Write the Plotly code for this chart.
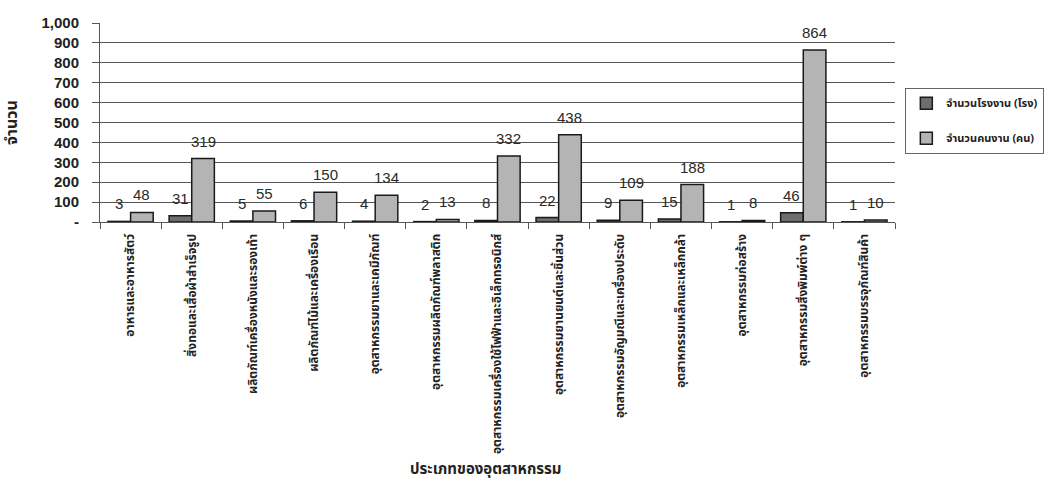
import plotly.graph_objects as go

# Industry types (x-axis categories)
industries = [
    "อาหารและอาหารสัตว์",
    "สิ่งทอและเสื้อผ้าสำเร็จรูป",
    "ผลิตภัณฑ์เครื่องหนังและรองเท้า",
    "ผลิตภัณฑ์ไม้และเครื่องเรือน",
    "อุตสาหกรรมยาและเคมีภัณฑ์",
    "อุตสาหกรรมผลิตภัณฑ์พลาสติก",
    "อุตสาหกรรมเครื่องใช้ไฟฟ้าและอิเล็กทรอนิกส์",
    "อุตสาหกรรมยานยนต์และชิ้นส่วน",
    "อุตสาหกรรมอัญมณีและเครื่องประดับ",
    "อุตสาหกรรมเหล็กและเหล็กกล้า",
    "อุตสาหกรรมก่อสร้าง",
    "อุตสาหกรรมสิ่งพิมพ์ต่าง ๆ",
    "อุตสาหกรรมบรรจุภัณฑ์สินค้า",
]

# Number of factories and number of workers per industry
factories = [3, 31, 5, 6, 4, 2, 8, 22, 9, 15, 1, 46, 1]
workers = [48, 319, 55, 150, 134, 13, 332, 438, 109, 188, 8, 864, 10]

series_names = ["จำนวนโรงงาน (โรง)", "จำนวนคนงาน (คน)"]

# Y-axis ticks (zero shown as a dash)
y_tickvals = [0, 100, 200, 300, 400, 500, 600, 700, 800, 900, 1000]
y_ticktext = ["-", "100", "200", "300", "400", "500", "600", "700", "800", "900", "1,000"]

thai_font = "Noto Sans Thai, Noto Sans, Liberation Sans, sans-serif"
num_font = "Liberation Sans, Arial, sans-serif"

BARGAP = 0.26
MARGIN = dict(l=100, r=155, t=23, b=262)
WIDTH, HEIGHT = 1050, 484

fig = go.Figure()
fig.add_trace(go.Bar(
    x=industries, y=factories, name=series_names[0], legendgroup="f",
    marker=dict(color="#6e6e6e", line=dict(color="#1a1a1a", width=1.5)),
))
fig.add_trace(go.Bar(
    x=industries, y=workers, name=series_names[1], legendgroup="w",
    marker=dict(color="#b4b4b4", line=dict(color="#1a1a1a", width=1.5)),
))

# Value labels above each bar, shifted onto the left/right bar of each group
cat_px = (WIDTH - MARGIN["l"] - MARGIN["r"]) / len(industries)
bar_offset = (1 - BARGAP) / 4 * cat_px
for series, shift in ((factories, -bar_offset), (workers, bar_offset)):
    for cat, val in zip(industries, series):
        fig.add_annotation(
            x=cat, y=val, text=str(val), showarrow=False,
            xanchor="center", yanchor="bottom", xshift=shift, yshift=7,
            font=dict(family=num_font, size=15, color="#2a2a2a"),
        )

fig.update_layout(
    width=WIDTH, height=HEIGHT,
    margin=dict(**MARGIN, autoexpand=False),
    paper_bgcolor="white", plot_bgcolor="white",
    barmode="group", bargap=BARGAP, bargroupgap=0.0,
    font=dict(family=thai_font, color="#222222"),
    showlegend=True,
    legend=dict(
        x=1.013, y=0.675, xanchor="left", yanchor="top",
        bordercolor="#666666", borderwidth=1,
        font=dict(family=thai_font, size=11, color="#222222", weight="bold"),
        traceorder="grouped", tracegroupgap=16,
        itemwidth=30,
    ),
)

fig.update_yaxes(
    range=[0, 1000], tickvals=y_tickvals, ticktext=y_ticktext,
    showgrid=True, gridcolor="#555555", gridwidth=1,
    showline=True, linecolor="#555555", linewidth=1,
    ticks="outside", ticklen=7, tickcolor="#555555", ticklabelstandoff=10,
    tickfont=dict(family=num_font, size=15, color="#222222", weight="bold"),
    title=dict(text="<b>จำนวน</b>", font=dict(family=thai_font, size=16, color="#222222"), standoff=22),
    zeroline=False,
)
fig.update_xaxes(
    showline=True, linecolor="#555555", linewidth=1,
    ticks="outside", ticklen=6, tickcolor="#555555", tickson="boundaries",
    tickangle=-90, ticklabelstandoff=6,
    tickfont=dict(family=thai_font, size=12, color="#222222", weight="bold"),
)

fig.add_annotation(
    text="<b>ประเภทของอุตสาหกรรม</b>", xref="paper", yref="paper",
    x=0.485, y=-1.246, xanchor="center", yanchor="middle", showarrow=False,
    font=dict(family=thai_font, size=15, color="#222222"),
)

fig.write_html("out.html")
